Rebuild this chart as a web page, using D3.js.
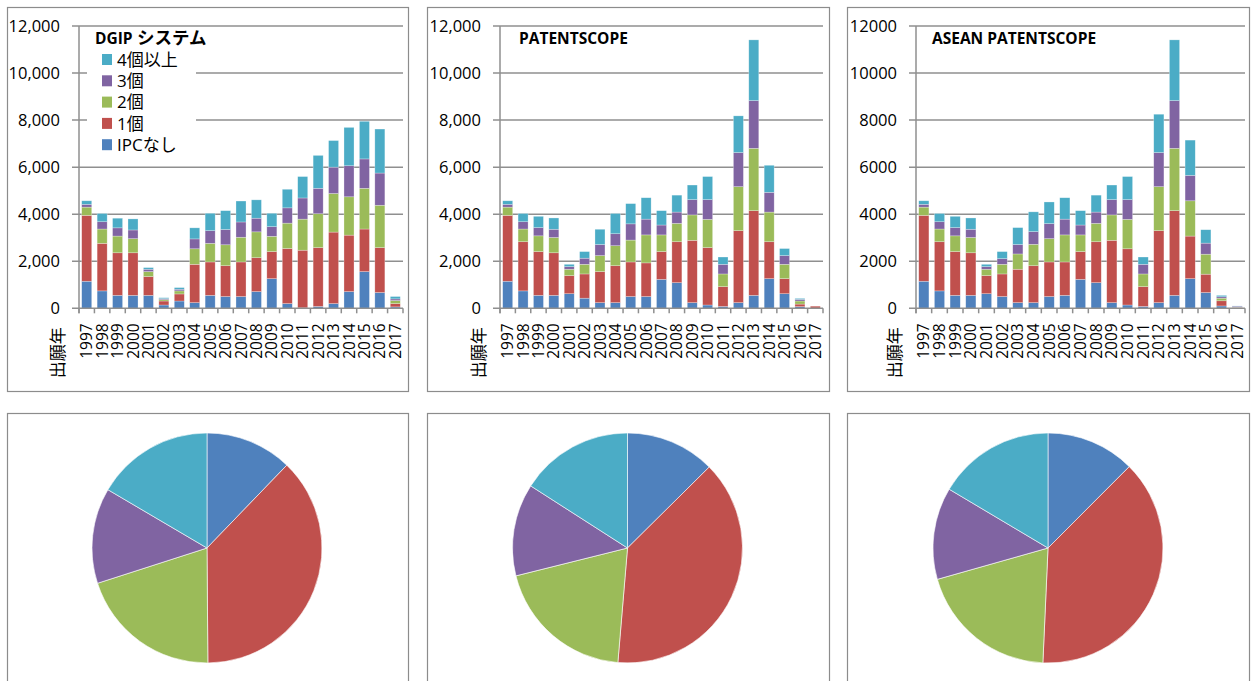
<!DOCTYPE html>
<html><head><meta charset="utf-8">
<script src="https://cdn.jsdelivr.net/npm/d3@7"></script>
<style>
body{margin:0;background:#fff}
svg{display:block}
text{font-family:"Open Sans","Noto Sans CJK JP",sans-serif;fill:#000}
</style>
</head><body>
<svg id="chart" width="1252" height="681"></svg>
<script>
// ---------- DATA ----------
const years = ["1997","1998","1999","2000","2001","2002","2003","2004","2005","2006","2007","2008","2009","2010","2011","2012","2013","2014","2015","2016","2017"];
const seriesNames = ["IPCなし","1個","2個","3個","4個以上"];
const seriesColors = ["#4F81BD","#C0504D","#9BBB59","#8064A2","#4BACC6"];
const yTickValues = [0,2000,4000,6000,8000,10000,12000];
const axisTitle = "出願年";
const panelTitles = ["DGIP システム","PATENTSCOPE","ASEAN PATENTSCOPE"];

// DGIP システム
const dgipNone  = [1150,740,550,550,550,140,310,240,550,500,500,710,1260,200,20,80,200,710,1560,670,60];
const dgipOne   = [2800,2020,1810,1810,800,170,300,1630,1420,1310,1470,1440,1150,2340,2450,2500,3040,2400,1810,1910,140];
const dgipTwo   = [350,610,710,600,210,60,130,660,790,890,1050,1100,650,1080,1320,1440,1640,1630,1730,1800,130];
const dgipThree = [120,310,350,370,100,40,70,420,540,650,650,580,410,650,900,1080,1120,1320,1250,1370,70];
const dgipFour  = [150,350,410,470,70,40,70,470,740,800,890,780,570,790,910,1400,1130,1630,1600,1870,100];

// PATENTSCOPE
const psNone  = [1150,740,550,550,620,430,240,240,500,500,1230,1090,240,140,80,240,550,1260,620,70,10];
const psOne   = [2800,2090,1860,1810,770,1030,1320,1570,1470,1430,1180,1740,2650,2440,840,3060,3600,1570,640,110,80];
const psTwo   = [350,540,670,650,270,410,680,850,930,1190,710,780,1080,1200,540,1870,2650,1260,610,130,0];
const psThree = [120,310,350,350,110,260,470,510,690,670,420,480,650,840,410,1450,2030,840,370,70,0];
const psFour  = [150,350,480,480,100,280,650,860,860,910,610,720,620,980,310,1560,2580,1150,300,40,0];

// ASEAN PATENTSCOPE
const aseanNone  = [1150,740,550,550,620,500,240,240,500,550,1230,1090,240,140,80,240,550,1260,670,100,20];
const aseanOne   = [2800,2090,1860,1810,770,960,1420,1570,1470,1420,1180,1740,2650,2390,840,3060,3600,1810,780,220,20];
const aseanTwo   = [350,540,670,650,270,410,650,910,990,1150,710,780,1080,1250,540,1870,2650,1500,850,110,10];
const aseanThree = [120,310,350,350,110,240,400,540,640,670,420,480,650,840,410,1450,2030,1080,470,60,40];
const aseanFour  = [150,350,480,480,100,300,720,840,920,910,610,720,620,980,310,1630,2580,1500,570,60,10];

// ---------- LAYOUT ----------
const svg = d3.select("#chart");
const gridColor = "#8f8f8f";
const zeroY = 308.3, topY = 26;

const panels = [
  {frameX:7.5, frameW:401, axisX:79, rightX:403, series:[dgipNone,dgipOne,dgipTwo,dgipThree,dgipFour], fmt:d3.format(","), legend:true, titleX:95, pieCX:207},
  {frameX:427.5, frameW:402, axisX:500, rightX:823, series:[psNone,psOne,psTwo,psThree,psFour], fmt:d3.format(","), legend:false, titleX:519, pieCX:627.5},
  {frameX:847.5, frameW:402, axisX:916, rightX:1245, series:[aseanNone,aseanOne,aseanTwo,aseanThree,aseanFour], fmt:d3.format("d"), legend:false, titleX:932, pieCX:1048}
];

const isCJK = s => /[\u3040-\u30ff\u4e00-\u9fff]/.test(s);

panels.forEach((p, pi) => {
  // frames
  svg.append("rect").attr("x", p.frameX).attr("y", 7.5).attr("width", p.frameW).attr("height", 384)
    .attr("fill", "#fff").attr("stroke", "#8c8c8c").attr("stroke-width", 1.2);
  svg.append("rect").attr("x", p.frameX).attr("y", 413.5).attr("width", p.frameW).attr("height", 300)
    .attr("fill", "#fff").attr("stroke", "#8c8c8c").attr("stroke-width", 1.2);

  const g = svg.append("g");
  const x = d3.scaleBand().domain(years).range([p.axisX, p.rightX]).paddingInner(0.35).paddingOuter(0.175);
  const y = d3.scaleLinear().domain([0, 12000]).range([zeroY, topY]);

  // gridlines + y ticks
  g.selectAll("line.grid").data(yTickValues.filter(v => v > 0)).join("line")
    .attr("x1", p.axisX - 7).attr("x2", p.rightX)
    .attr("y1", d => y(d)).attr("y2", d => y(d))
    .attr("stroke", gridColor).attr("stroke-width", 1.5);
  g.selectAll("text.ytick").data(yTickValues).join("text")
    .attr("x", p.axisX - 19).attr("y", d => y(d)).attr("dy", "0.36em")
    .attr("text-anchor", "end").attr("font-size", 16.5)
    .text(d => p.fmt(d));

  // stacked bars
  const rows = years.map((yr, i) => {
    const o = {year: yr};
    seriesNames.forEach((s, k) => o[s] = p.series[k][i]);
    return o;
  });
  const stacked = d3.stack().keys(seriesNames)(rows);
  stacked.forEach((layer, k) => {
    g.append("g").selectAll("rect").data(layer).join("rect")
      .attr("x", d => x(d.data.year))
      .attr("width", x.bandwidth())
      .attr("y", d => y(d[1]))
      .attr("height", d => Math.max(0, y(d[0]) - y(d[1])))
      .attr("fill", seriesColors[k])
      .attr("stroke", "#ffffff").attr("stroke-opacity", 0.45).attr("stroke-width", 0.6);
  });

  // axes lines
  g.append("line").attr("x1", p.axisX).attr("x2", p.axisX).attr("y1", topY).attr("y2", zeroY + 5)
    .attr("stroke", gridColor).attr("stroke-width", 1.5);
  g.append("line").attr("x1", p.axisX - 7).attr("x2", p.rightX).attr("y1", zeroY).attr("y2", zeroY)
    .attr("stroke", gridColor).attr("stroke-width", 1.5);
  const boundaries = d3.range(years.length + 1).map(i => p.axisX + (p.rightX - p.axisX) * i / years.length);
  g.selectAll("line.xt").data(boundaries).join("line")
    .attr("x1", d => d).attr("x2", d => d).attr("y1", zeroY).attr("y2", zeroY + 5)
    .attr("stroke", gridColor).attr("stroke-width", 1.5);

  // year labels
  g.selectAll("text.year").data(years).join("text")
    .attr("transform", d => `translate(${x(d) + x.bandwidth() / 2},${zeroY + 15}) rotate(-90)`)
    .attr("dy", "0.36em").attr("text-anchor", "end").attr("font-size", 15.5)
    .text(d => d);
  g.append("text")
    .attr("transform", `translate(${p.axisX - 21},${zeroY + 19}) rotate(-90)`)
    .attr("dy", "0.36em").attr("text-anchor", "end").attr("font-size", 17)
    .text(axisTitle);

  // legend (first panel)
  if (p.legend) {
    g.append("rect").attr("x", 87).attr("y", 28).attr("width", 109).attr("height", 128).attr("fill", "#fff");
    const order = [4,3,2,1,0];
    order.forEach((k, j) => {
      const cy = 59.5 + j * 21.3;
      g.append("rect").attr("x", 102).attr("y", cy - 5.5).attr("width", 10).attr("height", 11).attr("fill", seriesColors[k]);
      g.append("text").attr("x", 117).attr("y", cy).attr("dy", "0.36em").attr("font-size", 17).text(seriesNames[k]);
    });
  }
  // title (CJK words a bit larger, like the original rendering)
  const t = g.append("text").attr("x", p.titleX).attr("y", 38).attr("dy", "0.36em")
    .attr("font-size", 15.5).attr("font-weight", "bold");
  panelTitles[pi].split(" ").forEach((w, wi) => {
    t.append("tspan").attr("font-size", isCJK(w) ? 17.5 : 15.5).text((wi ? " " : "") + w);
  });

  // pie of totals
  const totals = seriesNames.map((s, k) => ({name: s, value: d3.sum(p.series[k]), k}));
  const pie = d3.pie().sort(null).value(d => d.value);
  const arc = d3.arc().innerRadius(0).outerRadius(115);
  svg.append("g").attr("transform", `translate(${p.pieCX},548)`)
    .selectAll("path").data(pie(totals)).join("path")
    .attr("d", arc).attr("fill", d => seriesColors[d.data.k])
    .attr("stroke", "#fff").attr("stroke-width", 0.6);
});
</script>
</body></html>
